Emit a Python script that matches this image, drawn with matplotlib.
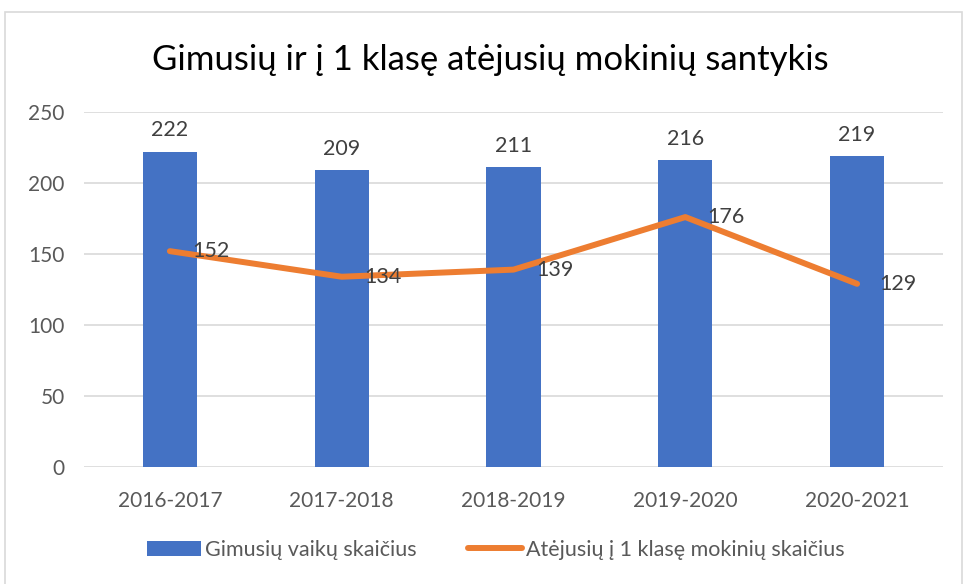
import matplotlib.pyplot as plt
from matplotlib.patches import Rectangle
import numpy as np

plt.rcParams['font.family'] = ['Lato', 'DejaVu Sans']

years = ['2016-2017', '2017-2018', '2018-2019', '2019-2020', '2020-2021']
born = [222, 209, 211, 216, 219]
entered = [152, 134, 139, 176, 129]

blue = '#4472C4'
orange = '#ED7D31'
grey = '#595959'

fig = plt.figure(figsize=(9.63, 5.84), dpi=100)
# chart frame
fig.patches.append(Rectangle((5 / 963, -0.01), 957 / 963, 1 - 12 / 584 + 0.01,
                             transform=fig.transFigure, fill=False,
                             edgecolor='#D9D9D9', lw=1.2))
ax = fig.add_axes([84 / 963, 1 - 467 / 584, (943 - 84) / 963, (467 - 112) / 584])

x = np.arange(len(years))
bars = ax.bar(x, born, width=0.315, color=blue, zorder=2, label='Gimusių vaikų skaičius')
line, = ax.plot(x, entered, color=orange, lw=4.3, solid_capstyle='round', zorder=3,
                label='Atėjusių į 1 klasę mokinių skaičius')

for xi, v in zip(x, born):
    ax.text(xi, v + 8, str(v), ha='center', va='bottom', fontsize=15.5, color='#404040')
for xi, v in zip(x, entered):
    ax.text(xi + 0.13, v, str(v), ha='left', va='center', fontsize=15.5, color='#404040', zorder=4)

ax.set_xlim(-0.5, 4.5)
ax.set_ylim(0, 250)
ax.set_yticks(range(0, 251, 50))
ax.set_xticks(x)
ax.set_xticklabels(years)
ax.grid(axis='y', color='#D9D9D9', lw=1.2, zorder=0)
for s in ax.spines.values():
    s.set_visible(False)
ax.tick_params(length=0, labelsize=15, colors=grey)
ax.tick_params(axis='x', pad=17)
ax.tick_params(axis='y', pad=14)

fig.text(490 / 963, 1 - 60 / 584, 'Gimusių ir į 1 klasę atėjusių mokinių santykis',
         ha='center', va='center', fontsize=25, color='black')

fig.legend([bars, line], [bars.get_label(), line.get_label()],
           loc='center', bbox_to_anchor=(496 / 963, 1 - 550 / 584), ncol=2, frameon=False,
           fontsize=15.5, labelcolor=grey, handlelength=2.5, columnspacing=2.4,
           handletextpad=0.2)

fig.savefig('out.png', dpi=100)
